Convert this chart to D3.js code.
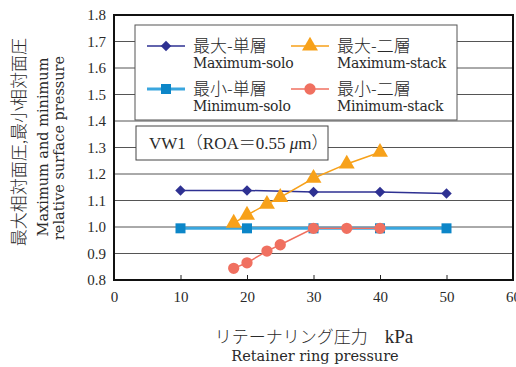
<!DOCTYPE html>
<html>
<head>
<meta charset="utf-8">
<script src="https://cdn.jsdelivr.net/npm/d3@7/dist/d3.min.js"></script>
<style>
  html, body { margin: 0; padding: 0; background: #fff; }
  svg { display: block; }
</style>
</head>
<body>
<svg id="chart" width="516" height="367"></svg>
<script>
// Retainer ring pressure (kPa) and relative surface pressure per series
const soloPressure = [10, 20, 30, 40, 50];
const maxSolo = [1.138, 1.138, 1.132, 1.132, 1.126];
const minSolo = [0.995, 0.995, 0.995, 0.995, 0.995];

const stackPressure = [18, 20, 23, 25, 30, 35, 40];
const maxStack = [1.015, 1.045, 1.086, 1.112, 1.184, 1.238, 1.282];
const minStack = [0.844, 0.865, 0.909, 0.933, 0.995, 0.995, 0.995];

const xTicks = [0, 10, 20, 30, 40, 50, 60];
const yTicks = [0.8, 0.9, 1.0, 1.1, 1.2, 1.3, 1.4, 1.5, 1.6, 1.7, 1.8];

const legendJa = ["最大-単層", "最大-二層", "最小-単層", "最小-二層"];
const legendEn = ["Maximum-solo", "Maximum-stack", "Minimum-solo", "Minimum-stack"];

const TIMES = '"Liberation Serif", "Times New Roman", serif';
const WIDE = '"DejaVu Serif", "Liberation Serif", serif';
const JP = '"Noto Sans CJK JP", "Noto Sans CJK SC", sans-serif';
const INK = "#2a2a2a";

const svg = d3.select("#chart");
const m = { left: 114, top: 15, right: 513, bottom: 280 };

const x = d3.scaleLinear().domain([0, 60]).range([m.left, m.right]);
const y = d3.scaleLinear().domain([0.8, 1.8]).range([m.bottom, m.top]);

function txt(sel, family, size) {
  return sel.style("font-family", family).style("font-size", size + "px").attr("fill", INK);
}

// horizontal grid
svg.append("g").selectAll("line")
  .data(yTicks.slice(1, -1))
  .join("line")
  .attr("x1", m.left).attr("x2", m.right)
  .attr("y1", d => y(d)).attr("y2", d => y(d))
  .attr("stroke", "#555").attr("stroke-width", 1);

// x axis with inward ticks
const xAxis = svg.append("g")
  .attr("transform", `translate(0,${m.bottom})`)
  .call(d3.axisBottom(x).tickValues(xTicks).tickSize(-5).tickPadding(11).tickFormat(d3.format("d")));
xAxis.select(".domain").remove();
xAxis.selectAll(".tick line").attr("stroke", "#222");
txt(xAxis.selectAll("text"), TIMES, 15);

// y axis labels
const yAxis = svg.append("g")
  .attr("transform", `translate(${m.left},0)`)
  .call(d3.axisLeft(y).tickValues(yTicks).tickSize(0).tickPadding(8).tickFormat(d3.format(".1f")));
yAxis.select(".domain").remove();
txt(yAxis.selectAll("text"), TIMES, 15);

// plot frame
svg.append("rect")
  .attr("x", m.left).attr("y", m.top)
  .attr("width", m.right - m.left).attr("height", m.bottom - m.top)
  .attr("fill", "none").attr("stroke", "#111").attr("stroke-width", 2);

// legend box
const lg = svg.append("g");
lg.append("rect").attr("x", 135).attr("y", 25).attr("width", 322).attr("height", 95)
  .attr("fill", "#fff").attr("stroke", "#555").attr("stroke-width", 1);

// condition box
svg.append("rect").attr("x", 136).attr("y", 126).attr("width", 192).attr("height", 34)
  .attr("fill", "#fff").attr("stroke", "#444").attr("stroke-width", 1);
const cond = svg.append("text").attr("x", 149).attr("y", 149);
txt(cond, TIMES, 17);
cond.append("tspan").text("VW1");
cond.append("tspan").style("font-family", JP).style("font-weight", 300).text("（");
cond.append("tspan").text("ROA");
cond.append("tspan").style("font-family", JP).style("font-weight", 300).text("＝");
cond.append("tspan").text("0.55 ");
cond.append("tspan").style("font-style", "italic").text("μ");
cond.append("tspan").text("m");
cond.append("tspan").style("font-family", JP).style("font-weight", 300).text("）");

// marker shapes
const diamond = d3.symbol().type(d3.symbolDiamond2).size(70);
const square = d3.symbol().type(d3.symbolSquare).size(100);
const triangle = d3.symbol().type(d3.symbolTriangle).size(110);
const circle = d3.symbol().type(d3.symbolCircle).size(100);

const series = [
  { xs: soloPressure, ys: minSolo, line: "#3aa6de", lw: 3, fill: "#0c86c8", sym: square },
  { xs: soloPressure, ys: maxSolo, line: "#2e3192", lw: 1.5, fill: "#2e3192", sym: diamond },
  { xs: stackPressure, ys: minStack, line: "#f07060", lw: 1.5, fill: "#f07060", sym: circle },
  { xs: stackPressure, ys: maxStack, line: "#f7a11a", lw: 1.5, fill: "#f7a11a", sym: triangle }
];

const line = d3.line().x(d => x(d[0])).y(d => y(d[1]));
series.forEach(s => {
  const pts = s.xs.map((v, i) => [v, s.ys[i]]);
  const g = svg.append("g");
  g.append("path").attr("d", line(pts)).attr("fill", "none")
    .attr("stroke", s.line).attr("stroke-width", s.lw);
  g.selectAll("path.m").data(pts).join("path").attr("class", "m")
    .attr("d", s.sym)
    .attr("transform", d => `translate(${x(d[0])},${y(d[1])})`)
    .attr("fill", s.fill);
});

// legend entries: order max-solo, max-stack, min-solo, min-stack
const legendStyle = [series[1], series[3], series[0], series[2]];
const legendPos = [[147, 46], [291, 46], [147, 89], [291, 89]];
legendStyle.forEach((s, i) => {
  const [lx, ly] = legendPos[i];
  lg.append("line").attr("x1", lx).attr("x2", lx + 38).attr("y1", ly).attr("y2", ly)
    .attr("stroke", s.line).attr("stroke-width", s.lw);
  lg.append("path").attr("d", s.sym).attr("transform", `translate(${lx + 19},${ly})`).attr("fill", s.fill);
  txt(lg.append("text").attr("x", lx + 46).attr("y", ly + 6), JP, 17)
    .style("font-weight", 300).text(legendJa[i]);
  txt(lg.append("text").attr("x", lx + 46).attr("y", ly + 22), WIDE, 14)
    .style("letter-spacing", "-0.3px").text(legendEn[i]);
});

// axis titles
const xt = svg.append("text").attr("x", 314).attr("y", 343).attr("text-anchor", "middle");
txt(xt, JP, 17).style("font-weight", 300);
xt.append("tspan").text("リテーナリング圧力　");
xt.append("tspan").style("font-family", TIMES).style("font-size", "19px").text("kPa");
txt(svg.append("text").attr("x", 315).attr("y", 361).attr("text-anchor", "middle"), WIDE, 14.5)
  .text("Retainer ring pressure");

const yt = svg.append("g").attr("transform", "translate(0,142) rotate(-90)");
txt(yt.append("text").attr("x", 0).attr("y", 25).attr("text-anchor", "middle"), JP, 17)
  .style("font-weight", 300).text("最大相対面圧,最小相対面圧");
txt(yt.append("text").attr("x", -5).attr("y", 48).attr("text-anchor", "middle"), WIDE, 14.5)
  .text("Maximum and minimum");
txt(yt.append("text").attr("x", -6).attr("y", 64).attr("text-anchor", "middle"), WIDE, 14.5)
  .text("relative surface pressure");
</script>
</body>
</html>
